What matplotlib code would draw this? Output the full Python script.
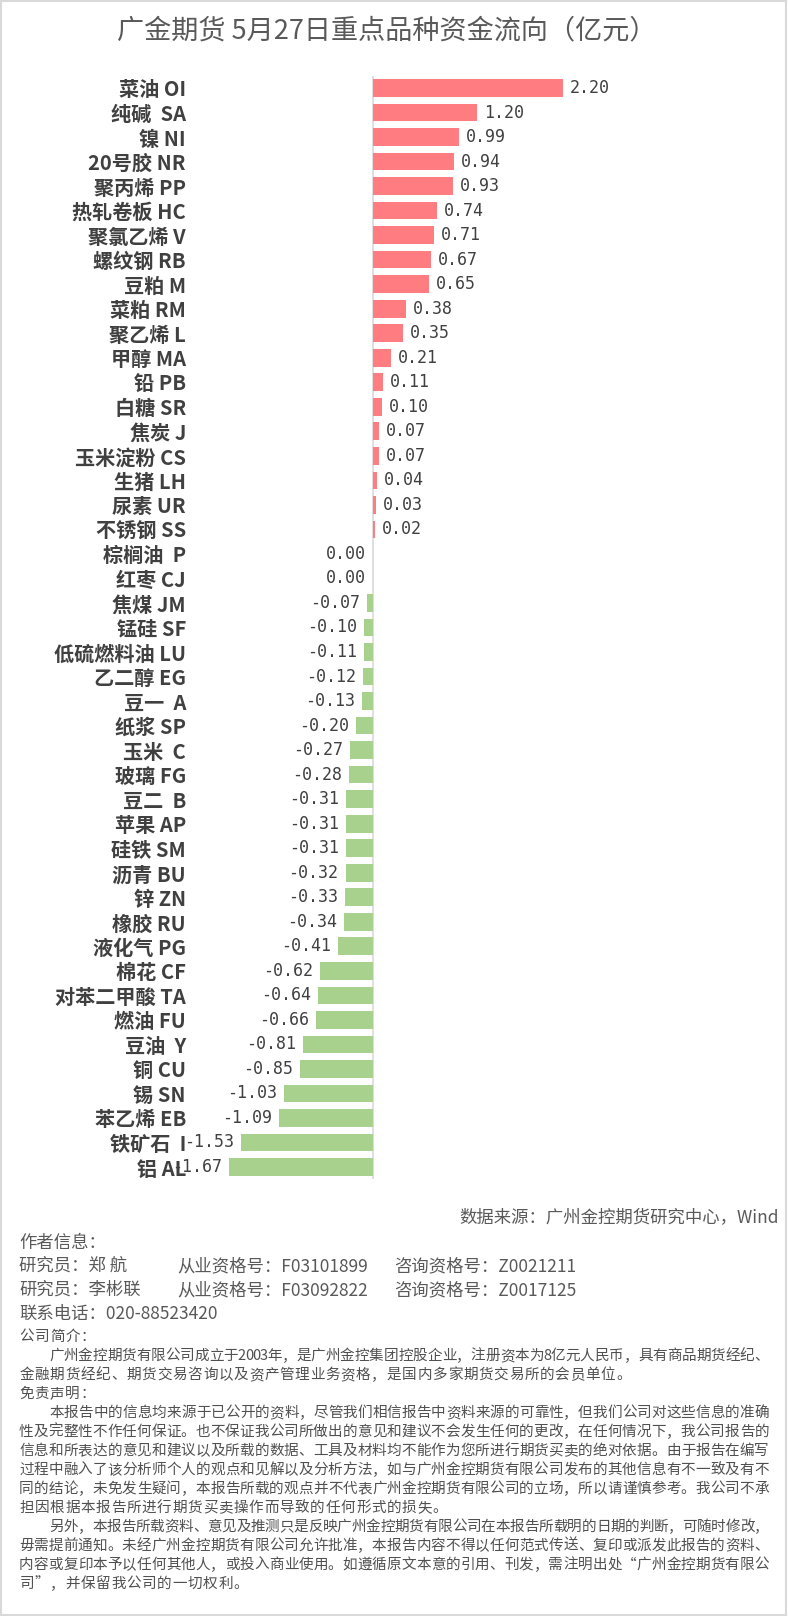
import matplotlib
matplotlib.use("Agg")
import matplotlib.pyplot as plt
from matplotlib.patches import Rectangle

plt.rcParams['font.family'] = ['Noto Sans CJK SC', 'DejaVu Sans']

W, H = 788, 1616

# data (亿元)
names = ['菜油 OI', '纯碱  SA', '镍 NI', '20号胶 NR', '聚丙烯 PP', '热轧卷板 HC', '聚氯乙烯 V',
         '螺纹钢 RB', '豆粕 M', '菜粕 RM', '聚乙烯 L', '甲醇 MA', '铅 PB', '白糖 SR', '焦炭 J',
         '玉米淀粉 CS', '生猪 LH', '尿素 UR', '不锈钢 SS', '棕榈油  P', '红枣 CJ', '焦煤 JM',
         '锰硅 SF', '低硫燃料油 LU', '乙二醇 EG', '豆一  A', '纸浆 SP', '玉米  C', '玻璃 FG',
         '豆二  B', '苹果 AP', '硅铁 SM', '沥青 BU', '锌 ZN', '橡胶 RU', '液化气 PG', '棉花 CF',
         '对苯二甲酸 TA', '燃油 FU', '豆油  Y', '铜 CU', '锡 SN', '苯乙烯 EB', '铁矿石  I', '铝 AL']
flows = [2.20, 1.20, 0.99, 0.94, 0.93, 0.74, 0.71, 0.67, 0.65, 0.38, 0.35, 0.21, 0.11, 0.10, 0.07,
         0.07, 0.04, 0.03, 0.02, -0.004, -0.003, -0.07, -0.10, -0.11, -0.12, -0.13, -0.20, -0.27,
         -0.28, -0.31, -0.31, -0.31, -0.32, -0.33, -0.34, -0.41, -0.62, -0.64, -0.66, -0.81, -0.85,
         -1.03, -1.09, -1.53, -1.67]

title = '广金期货 5月27日重点品种资金流向（亿元）'
source = '数据来源：广州金控期货研究中心，Wind'
author_head = '作者信息：'
researchers = ['研究员：郑 航', '研究员：李彬联']
licences = ['从业资格号：F03101899', '从业资格号：F03092822']
advisory = ['咨询资格号：Z0021211', '咨询资格号：Z0017125']
phone = '联系电话：020-88523420'
# (text, indented, justified)
notes = [
    ('公司简介：', False, False),
    ('广州金控期货有限公司成立于2003年，是广州金控集团控股企业，注册资本为8亿元人民币，具有商品期货经纪、', True, True),
    ('金融期货经纪、期货交易咨询以及资产管理业务资格，是国内多家期货交易所的会员单位。', False, False),
    ('免责声明：', False, False),
    ('本报告中的信息均来源于已公开的资料，尽管我们相信报告中资料来源的可靠性，但我们公司对这些信息的准确', True, True),
    ('性及完整性不作任何保证。也不保证我公司所做出的意见和建议不会发生任何的更改，在任何情况下，我公司报告的', False, True),
    ('信息和所表达的意见和建议以及所载的数据、工具及材料均不能作为您所进行期货买卖的绝对依据。由于报告在编写', False, True),
    ('过程中融入了该分析师个人的观点和见解以及分析方法，如与广州金控期货有限公司发布的其他信息有不一致及有不', False, True),
    ('同的结论，未免发生疑问，本报告所载的观点并不代表广州金控期货有限公司的立场，所以请谨慎参考。我公司不承', False, True),
    ('担因根据本报告所进行期货买卖操作而导致的任何形式的损失。', False, False),
    ('另外，本报告所载资料、意见及推测只是反映广州金控期货有限公司在本报告所载明的日期的判断，可随时修改，', True, True),
    ('毋需提前通知。未经广州金控期货有限公司允许批准，本报告内容不得以任何范式传送、复印或派发此报告的资料、', False, True),
    ('内容或复印本予以任何其他人，或投入商业使用。如遵循原文本意的引用、刊发，需注明出处“广州金控期货有限公', False, True),
    ('司”，并保留我公司的一切权利。', False, False),
]

POS, NEG = '#FF7C80', '#A9D18E'
GRAY = '#595959'


def fx(px):
    return px / W


def fy(py):
    return 1 - py / H


fig = plt.figure(figsize=(W / 100, H / 100), dpi=100)
fig.patches.append(Rectangle((0.001, 0.0008), 0.997, 0.9985, transform=fig.transFigure,
                             fill=False, edgecolor='#d9d9d9', linewidth=1.5))

# axes placed so zero sits at x=373 px, rows 88..1167 px
ax_l, ax_r = 229, 563
n = len(names)
pitch = (1167 - 88) / (n - 1)
ax_t, ax_b = 88 - pitch / 2, 1167 + pitch / 2
ax = fig.add_axes([fx(ax_l), fy(ax_b), (ax_r - ax_l) / W, (ax_b - ax_t) / H])

ys = list(range(n))
colors = [POS if v > 0 else NEG for v in flows]
ax.barh(ys, flows, height=0.72, color=colors, zorder=2)
ax.set_xlim(min(flows), max(flows))
ax.set_ylim(n - 0.5, -0.5)
ax.axvline(0, color='#d9d9d9', linewidth=1.2, zorder=1)

for s in ax.spines.values():
    s.set_visible(False)
ax.set_xticks([])
ax.set_yticks(ys)
ax.set_yticklabels(names, fontsize=14.5, fontweight='bold', color='#404040')
ax.tick_params(axis='y', length=0, pad=31)

for y, v in zip(ys, flows):
    lab = f'{round(v, 2) + 0:.2f}'
    if v > 0:
        ax.annotate(lab, (v, y), xytext=(5, 0), textcoords='offset points', ha='left',
                    va='center', fontsize=12, color='#404040', family='DejaVu Sans Mono')
    else:
        ax.annotate(lab, (v, y), xytext=(-5, 0), textcoords='offset points', ha='right',
                    va='center', fontsize=12, color='#404040', family='DejaVu Sans Mono')

fig.text(fx(387), fy(31), title, ha='center', va='center', fontsize=19.5, color=GRAY)
fig.text(fx(779), fy(1217), source, ha='right', va='center', fontsize=12.5, color=GRAY)

# author block
fig.text(fx(19), fy(1243), author_head, ha='left', va='center', fontsize=12.5, color=GRAY)
for i in range(2):
    y = 1266 + i * 24
    fig.text(fx(19), fy(y), researchers[i], ha='left', va='center', fontsize=12.5, color=GRAY)
    fig.text(fx(177), fy(y), licences[i], ha='left', va='center', fontsize=12.5, color=GRAY)
    fig.text(fx(394), fy(y), advisory[i], ha='left', va='center', fontsize=12.5, color=GRAY)
fig.text(fx(19), fy(1314), phone, ha='left', va='center', fontsize=12.5, color=GRAY)

# justified paragraph lines, drawn char by char
left, right, indent = 19, 769, 49
for i, (line, ind, just) in enumerate(notes):
    y = 1337 + i * 18.98
    x0 = indent if ind else left
    weights = [0.5 if ord(c) < 128 else 1.0 for c in line]
    unit = (right - x0) / sum(weights) if just else 15.3
    x = x0
    for c, w in zip(line, weights):
        fig.text(fx(x + unit * w / 2), fy(y), c, ha='center', va='center', fontsize=10.5,
                 color='#505050')
        x += unit * w

fig.savefig('out.png', dpi=100)
